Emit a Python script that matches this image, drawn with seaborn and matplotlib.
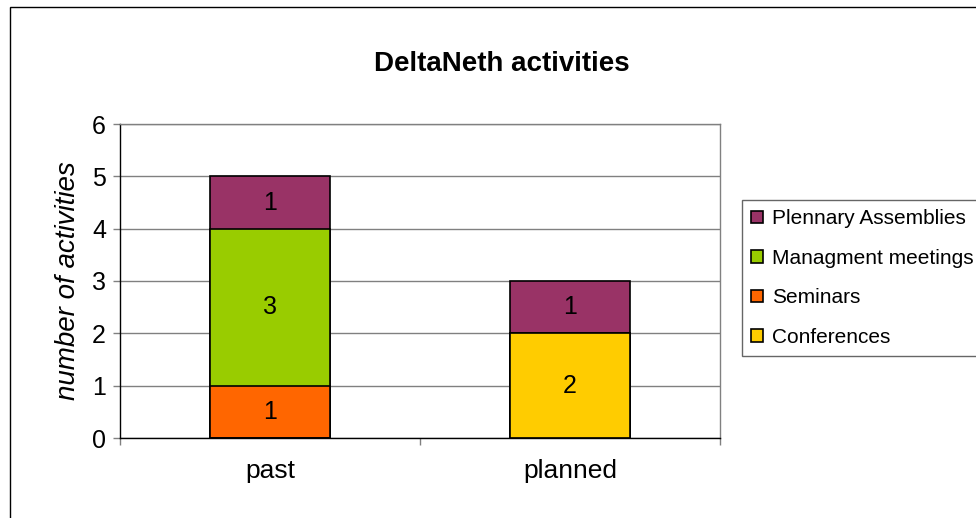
import pandas as pd
import seaborn as sns
from matplotlib import pyplot as plt
from matplotlib.patches import Rectangle

# chart values
periods = ["past", "planned"]
series = ["Plennary Assemblies", "Managment meetings", "Seminars", "Conferences"]
plennary = [1, 1]
managment = [3, 0]
seminars = [1, 0]
conferences = [0, 2]
colors = ["#993366", "#99CC00", "#FF6600", "#FFCC00"]

# stack order bottom -> top
stack = [("Conferences", conferences), ("Seminars", seminars),
         ("Managment meetings", managment), ("Plennary Assemblies", plennary)]

rows = []
base = [0] * len(periods)
for name, vals in stack:
    for i, p in enumerate(periods):
        rows.append({"period": p, "series": name, "value": vals[i],
                     "bottom": base[i], "top": base[i] + vals[i]})
    base = [b + v for b, v in zip(base, vals)]
df = pd.DataFrame(rows)

sns.set_style("white")
plt.rcParams['font.family'] = ['Liberation Sans', 'DejaVu Sans']
plt.rcParams['text.color'] = 'black'
plt.rcParams['axes.labelcolor'] = 'black'
plt.rcParams['xtick.labelcolor'] = 'black'
plt.rcParams['ytick.labelcolor'] = 'black'

fig = plt.figure(figsize=(9.76, 5.18), dpi=100)
ax = fig.add_axes([120 / 976, 1 - 438 / 518, 600 / 976, 314 / 518])

# overlay cumulative heights, tallest drawn first
sns.barplot(data=df, x="period", y="top", hue="series", hue_order=series,
            order=periods, palette=dict(zip(series, colors)), dodge=False,
            width=0.4, edgecolor="black", linewidth=1.2, saturation=1,
            ax=ax, zorder=2)

for _, r in df.iterrows():
    if r["value"] > 0:
        ax.text(periods.index(r["period"]), (r["bottom"] + r["top"]) / 2,
                str(r["value"]), ha="center", va="center", fontsize=18, zorder=3)

ax.set_xlim(-0.5, 1.5)
ax.set_ylim(0, 6)
ax.set_yticks(range(0, 7))
ax.yaxis.grid(True, color="#808080", linewidth=1)
ax.set_axisbelow(True)
ax.tick_params(axis="y", labelsize=18, length=5, width=1, color="#808080", left=True, pad=5)
ax.tick_params(axis="x", which="major", labelsize=19, length=0, pad=15)
ax.set_xticks([-0.5, 0.5, 1.5], minor=True)
ax.tick_params(axis="x", which="minor", length=5, width=1, color="#808080", bottom=True)
ax.set_xlabel("")
ax.set_ylabel("number of activities", fontsize=20, style="italic", labelpad=8)

for side in ["top", "right"]:
    ax.spines[side].set_color("#808080")
    ax.spines[side].set_linewidth(1)
for side in ["left", "bottom"]:
    ax.spines[side].set_color("black")
    ax.spines[side].set_linewidth(1)

fig.text(502 / 976, 1 - 64 / 518, "DeltaNeth activities", ha="center", va="center",
         fontsize=20, fontweight="bold")

handles, labels = ax.get_legend_handles_labels()
ax.legend(handles, labels, loc="upper left", bbox_to_anchor=(742 / 976, 1 - 200 / 518),
          bbox_transform=fig.transFigure, fontsize=15, frameon=True, fancybox=False,
          edgecolor="#404040", handlelength=0.55, handleheight=0.55, handletextpad=0.45,
          labelspacing=0.98, borderpad=0.45, borderaxespad=0)
ax.get_legend().get_frame().set_linewidth(1)

# outer chart frame
fig.patches.append(Rectangle((10 / 976, -0.1), 1.0, 1 - 7 / 518 + 0.1,
                             transform=fig.transFigure, fill=False,
                             edgecolor="black", linewidth=1))

fig.savefig("out.png", dpi=100)
